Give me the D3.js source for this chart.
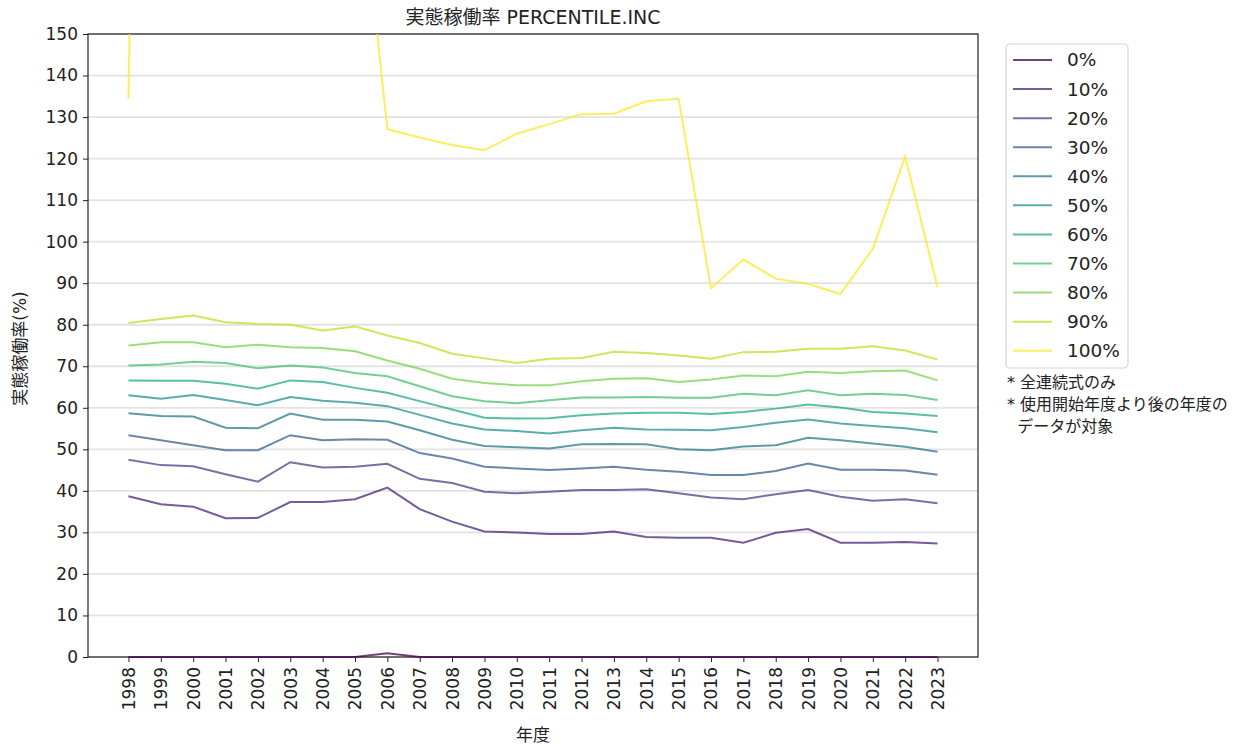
<!DOCTYPE html>
<html><head><meta charset="utf-8">
<script src="https://cdn.jsdelivr.net/npm/d3@7"></script>
<style>
body{margin:0;background:#fff;}
text{font-family:"DejaVu Sans","Noto Sans CJK JP",sans-serif;fill:#222;}
</style></head>
<body><svg id="c" width="1249" height="744"></svg>
<script>
const years = [1998,1999,2000,2001,2002,2003,2004,2005,2006,2007,2008,2009,2010,2011,2012,2013,2014,2015,2016,2017,2018,2019,2020,2021,2022,2023];
const seriesNames = ["0%","10%","20%","30%","40%","50%","60%","70%","80%","90%","100%"];
const p0  = [0,0,0,0,0,0,0,0,0.9,0,0,0,0,0,0,0,0,0,0,0,0,0,0,0,0,0];
const p10 = [38.7,36.8,36.2,33.4,33.5,37.3,37.3,38.0,40.8,35.6,32.6,30.2,30.0,29.6,29.6,30.2,28.9,28.7,28.7,27.5,29.9,30.8,27.5,27.5,27.7,27.3];
const p20 = [47.5,46.2,45.9,44.0,42.2,46.9,45.6,45.8,46.5,42.9,41.9,39.8,39.4,39.8,40.2,40.2,40.4,39.4,38.4,38.0,39.2,40.2,38.6,37.6,38.0,37.0];
const p30 = [53.4,52.2,51.0,49.8,49.8,53.4,52.2,52.4,52.3,49.1,47.8,45.8,45.4,45.0,45.4,45.8,45.1,44.6,43.8,43.8,44.8,46.6,45.1,45.1,44.9,43.9];
const p40 = [58.7,58.0,57.9,55.2,55.1,58.6,57.1,57.1,56.7,54.6,52.3,50.8,50.5,50.2,51.2,51.3,51.2,50.0,49.8,50.7,51.0,52.8,52.2,51.4,50.6,49.4];
const p50 = [63.0,62.2,63.1,61.9,60.6,62.6,61.7,61.2,60.4,58.3,56.2,54.8,54.4,53.8,54.6,55.2,54.8,54.7,54.6,55.4,56.4,57.2,56.2,55.6,55.1,54.1];
const p60 = [66.6,66.5,66.5,65.8,64.6,66.6,66.2,64.8,63.6,61.6,59.6,57.6,57.4,57.5,58.2,58.6,58.8,58.8,58.5,59.0,59.8,60.8,60.1,59.0,58.6,58.0];
const p70 = [70.2,70.4,71.1,70.8,69.5,70.2,69.7,68.4,67.6,65.2,62.8,61.6,61.1,61.8,62.5,62.5,62.6,62.4,62.4,63.4,63.0,64.2,63.0,63.4,63.1,61.9];
const p80 = [75.0,75.8,75.8,74.6,75.2,74.6,74.4,73.6,71.4,69.4,67.0,66.0,65.4,65.4,66.4,67.0,67.1,66.2,66.8,67.8,67.6,68.7,68.4,68.8,69.0,66.6];
const p90 = [80.4,81.4,82.2,80.6,80.2,80.0,78.6,79.6,77.4,75.6,73.0,71.9,70.8,71.8,72.0,73.5,73.2,72.6,71.8,73.4,73.5,74.2,74.2,74.8,73.8,71.6];
const p100= [134.5,600,600,600,600,600,600,200,127.1,125.1,123.3,122.0,126.0,128.3,130.7,130.8,133.8,134.4,88.8,95.7,91.1,89.8,87.4,98.3,120.5,89.0];
const yTicks = [0,10,20,30,40,50,60,70,80,90,100,110,120,130,140,150];
const titleText = "実態稼働率 PERCENTILE.INC";
const yLabel = "実態稼働率(%)";
const xLabel = "年度";
const notes = ["* 全連続式のみ","* 使用開始年度より後の年度の","  データが対象"];

const allSeries = [p0,p10,p20,p30,p40,p50,p60,p70,p80,p90,p100];

const L=88, R=978, T=34, B=657;
const svg = d3.select("#c");
const x = d3.scaleLinear().domain([years[0]-1.25, years[years.length-1]+1.25]).range([L,R]);
const y = d3.scaleLinear().domain([0,150]).range([B,T]);
const color = i => d3.interpolateViridis(i/10);

svg.append("defs").append("clipPath").attr("id","clip")
  .append("rect").attr("x",L).attr("y",T).attr("width",R-L).attr("height",B-T+1);

// grid
svg.append("g").selectAll("line").data(yTicks).join("line")
  .attr("x1",L).attr("x2",R).attr("y1",d=>y(d)).attr("y2",d=>y(d))
  .attr("stroke","#e3e3e3").attr("stroke-width",1.8);

// frame
svg.append("rect").attr("x",L).attr("y",T).attr("width",R-L).attr("height",B-T)
  .attr("fill","none").attr("stroke","#222").attr("stroke-width",1.2);

// lines
const line = d3.line().x((d,i)=>x(years[i])).y(d=>y(d));
svg.append("g").attr("clip-path","url(#clip)").selectAll("path").data(allSeries).join("path")
  .attr("d",line).attr("fill","none")
  .attr("stroke",(d,i)=>color(i)).attr("stroke-opacity",0.75).attr("stroke-width",2);

// y axis
const ya = svg.append("g").attr("transform",`translate(${L},0)`)
  .call(d3.axisLeft(y).tickValues(yTicks).tickSize(5).tickPadding(5));
ya.select(".domain").remove();
ya.selectAll("text").style("font-size","17px").style("fill","#222");
ya.selectAll("line").attr("stroke","#222");

// x axis
const xa = svg.append("g").attr("transform",`translate(0,${B})`)
  .call(d3.axisBottom(x).tickValues(years).tickFormat(d3.format("d")).tickSize(5));
xa.select(".domain").remove();
xa.selectAll("line").attr("stroke","#222");
xa.selectAll("text").style("font-size","17px").style("fill","#222")
  .attr("transform","rotate(-90)").attr("x",-10).attr("y",0).attr("dy","0.35em")
  .style("text-anchor","end");

// title & labels
svg.append("text").attr("x",(L+R)/2).attr("y",24).attr("text-anchor","middle")
  .style("font-size","19px").text(titleText);
svg.append("text").attr("transform",`translate(26,${(T+B)/2+3}) rotate(-90)`).attr("text-anchor","middle")
  .style("font-size","17px").text(yLabel);
svg.append("text").attr("x",(L+R)/2).attr("y",741).attr("text-anchor","middle")
  .style("font-size","17px").text(xLabel);

// legend
const lg = svg.append("g");
lg.append("rect").attr("x",1006).attr("y",44).attr("width",122).attr("height",324)
  .attr("rx",4).attr("fill","#fff").attr("stroke","#d4d4d4").attr("stroke-width",1.2);
const rows = lg.selectAll("g.r").data(seriesNames).join("g")
  .attr("transform",(d,i)=>`translate(0,${60+i*29.07})`);
rows.append("line").attr("x1",1013).attr("x2",1052).attr("y1",0).attr("y2",0)
  .attr("stroke",(d,i)=>color(i)).attr("stroke-opacity",0.75).attr("stroke-width",2);
rows.append("text").attr("x",1067).attr("y",0).attr("dy","0.35em")
  .style("font-size","18.5px").text(d=>d);

// notes
svg.append("g").selectAll("text").data(notes).join("text")
  .attr("x",1007).attr("y",(d,i)=>388+i*22).style("font-size","16px")
  .attr("xml:space","preserve").style("white-space","pre").text(d=>d);
</script></body></html>
